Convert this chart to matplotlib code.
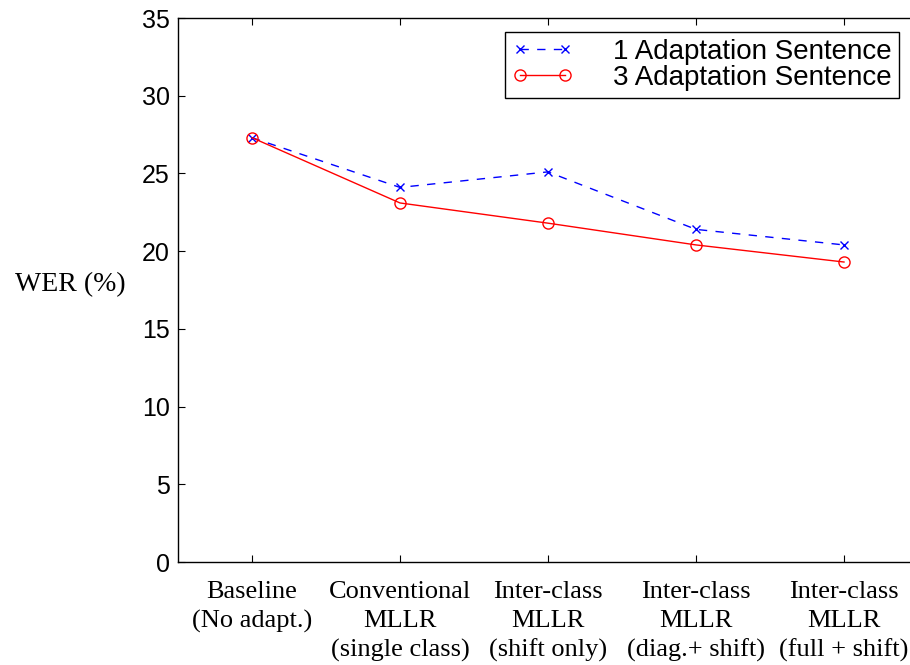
import matplotlib
matplotlib.use("Agg")
import matplotlib.pyplot as plt

# chart values
methods = [
    "Baseline\n(No adapt.)",
    "Conventional\nMLLR\n(single class)",
    "Inter-class\nMLLR\n(shift only)",
    "Inter-class\nMLLR\n(diag.+ shift)",
    "Inter-class\nMLLR\n(full + shift)",
]
wer_1sent = [27.3, 24.1, 25.1, 21.4, 20.4]
wer_3sent = [27.3, 23.1, 21.8, 20.4, 19.3]
y_ticks = [0, 5, 10, 15, 20, 25, 30, 35]

fig = plt.figure(figsize=(9.1, 6.65), dpi=100)
ax = fig.add_axes([178 / 910, 103 / 665, 740 / 910, 544 / 665])

x = list(range(1, len(methods) + 1))
ax.plot(x, wer_1sent, color="blue", linestyle=(0, (6, 6)), linewidth=1,
        marker="x", markersize=6, markeredgewidth=1, label="1 Adaptation Sentence")
ax.plot(x, wer_3sent, color="red", linestyle="-", linewidth=1,
        marker="o", markersize=8, markerfacecolor="none", markeredgewidth=1,
        label="3 Adaptation Sentence")

ax.set_xlim(0.5, 5.5)
ax.set_ylim(0, 35)
ax.set_xticks(x)
ax.set_xticklabels(methods, fontfamily="Liberation Serif", fontsize=19,
                   linespacing=1.38)
ax.set_yticks(y_ticks)
ax.set_yticklabels([str(t) for t in y_ticks], fontfamily="Liberation Sans", fontsize=18)
ax.tick_params(direction="in", length=5, width=0.8, top=True, right=False)
ax.tick_params(axis="x", pad=14)
ax.tick_params(axis="y", pad=6)

for s in ax.spines.values():
    s.set_linewidth(1)
ax.spines["right"].set_visible(False)

fig.text(15 / 910, 1 - 285 / 665, "WER (%)", fontfamily="Liberation Serif",
         fontsize=20, ha="left", va="center")

leg = ax.legend(loc="upper right", bbox_to_anchor=(899 / 910, 1 - 32 / 665),
                bbox_transform=fig.transFigure, borderaxespad=0,
                fancybox=False, framealpha=1, edgecolor="black",
                prop={"family": "Liberation Sans", "size": 20},
                numpoints=2, handlelength=2.2, handletextpad=1.45,
                labelspacing=0.0, borderpad=0.25)
leg.get_frame().set_linewidth(1)

fig.savefig("out.png", dpi=100)
